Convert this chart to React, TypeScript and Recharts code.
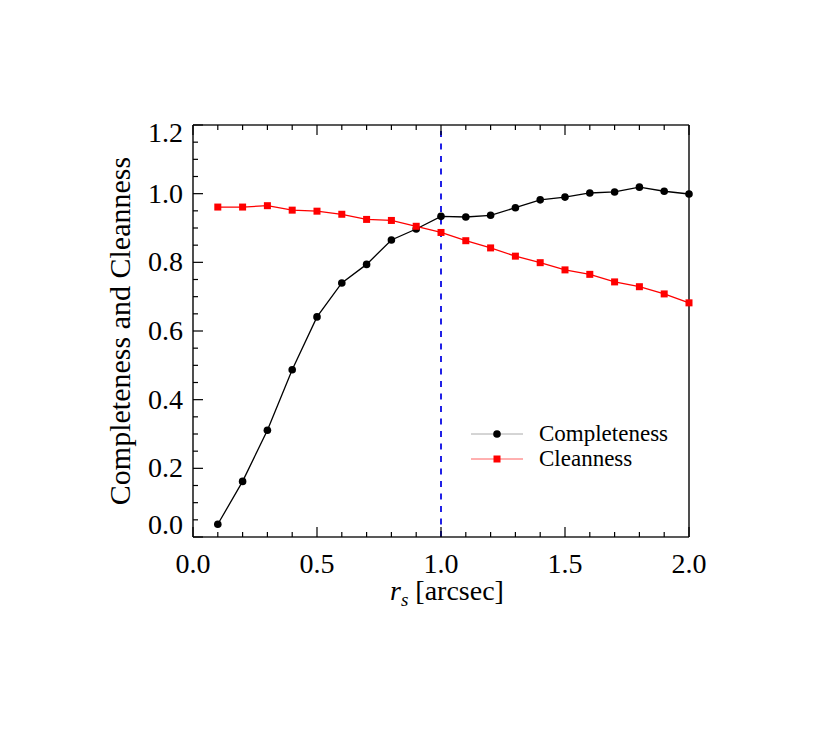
import React from 'react';
import {
  LineChart,
  Line,
  XAxis,
  YAxis,
  ReferenceLine,
  Legend,
} from 'recharts';

// aperture radius r_s in arcsec
const rs = [0.1, 0.2, 0.3, 0.4, 0.5, 0.6, 0.7, 0.8, 0.9, 1.0, 1.1, 1.2, 1.3, 1.4, 1.5, 1.6, 1.7, 1.8, 1.9, 2.0];
const completeness = [0.037, 0.162, 0.311, 0.487, 0.641, 0.74, 0.794, 0.865, 0.897, 0.934, 0.932, 0.937, 0.959, 0.982, 0.99, 1.002, 1.005, 1.019, 1.007, 0.999];
const cleanness = [0.961, 0.961, 0.965, 0.952, 0.949, 0.94, 0.925, 0.922, 0.905, 0.887, 0.863, 0.842, 0.818, 0.799, 0.778, 0.765, 0.743, 0.729, 0.708, 0.682];

const xTicks = [0, 0.1, 0.2, 0.3, 0.4, 0.5, 0.6, 0.7, 0.8, 0.9, 1.0, 1.1, 1.2, 1.3, 1.4, 1.5, 1.6, 1.7, 1.8, 1.9, 2.0];
const xLabels = [0, 0.5, 1.0, 1.5, 2.0];
const yTicks = [0, 0.05, 0.1, 0.15, 0.2, 0.25, 0.3, 0.35, 0.4, 0.45, 0.5, 0.55, 0.6, 0.65, 0.7, 0.75, 0.8, 0.85, 0.9, 0.95, 1.0, 1.05, 1.1, 1.15, 1.2];
const yLabels = [0, 0.2, 0.4, 0.6, 0.8, 1.0, 1.2];

const data = rs.map((r, i) => ({ r, completeness: completeness[i], cleanness: cleanness[i] }));

const FONT = '"Liberation Serif", "Times New Roman", serif';
const isLabel = (list: number[], v: number) => list.some((t) => Math.abs(t - v) < 1e-6);

// inward tick marks, labels only on the major ticks
const BottomTick = ({ x, y, payload }: any) => {
  const major = isLabel(xLabels, payload.value);
  return (
    <g>
      <line x1={x} x2={x} y1={y} y2={y - (major ? 10 : 5)} stroke='#000' strokeWidth={1.2} />
      {major && (
        <text x={x} y={y + 36} textAnchor='middle' fontFamily={FONT} fontSize={28} fill='#000'>
          {payload.value.toFixed(1)}
        </text>
      )}
    </g>
  );
};

const TopTick = ({ x, y, payload }: any) => {
  const major = isLabel(xLabels, payload.value);
  return <line x1={x} x2={x} y1={y} y2={y + (major ? 10 : 5)} stroke='#000' strokeWidth={1.2} />;
};

const LeftTick = ({ x, y, payload }: any) => {
  const v = payload.value;
  const major = isLabel(yLabels, v);
  // end labels nudged inside the frame, like the original plot
  const shift = v > 1.19 ? 8 : v < 0.01 ? -12 : 0;
  return (
    <g>
      <line x1={x} x2={x + (major ? 10 : 5)} y1={y} y2={y} stroke='#000' strokeWidth={1.2} />
      {major && (
        <text x={x - 10} y={y + shift + 9} textAnchor='end' fontFamily={FONT} fontSize={28} fill='#000'>
          {v.toFixed(1)}
        </text>
      )}
    </g>
  );
};

const RightTick = ({ x, y, payload }: any) => {
  const major = isLabel(yLabels, payload.value);
  return <line x1={x} x2={x - (major ? 10 : 5)} y1={y} y2={y} stroke='#000' strokeWidth={1.2} />;
};

const SquareDot = (p: any) => (
  <rect key={`sq-${p.index}`} x={p.cx - 3.5} y={p.cy - 3.5} width={7} height={7} fill='#ff0000' />
);

const LegendBox = () => (
  <div style={{ fontFamily: FONT, fontSize: 23, lineHeight: '25px', color: '#000' }}>
    {[
      { name: 'Completeness', line: '#aaaaaa', color: '#000', square: false },
      { name: 'Cleanness', line: '#ff6060', color: '#ff0000', square: true },
    ].map((s) => (
      <div key={s.name} style={{ display: 'flex', alignItems: 'center', height: 25 }}>
        <svg width={52} height={14} style={{ marginRight: 16 }}>
          <line x1={0} x2={52} y1={7} y2={7} stroke={s.line} strokeWidth={1} />
          {s.square ? (
            <rect x={22.5} y={3.5} width={7} height={7} fill={s.color} />
          ) : (
            <circle cx={26} cy={7} r={3.8} fill={s.color} />
          )}
        </svg>
        <span>{s.name}</span>
      </div>
    ))}
  </div>
);

const frame = { stroke: '#222', strokeWidth: 1.6 };

export default function App() {
  return (
    <div style={{ position: 'absolute', left: 0, top: 0, background: '#fff' }}>
      <LineChart
        width={831}
        height={732}
        data={data}
        margin={{ top: 124, right: 141, bottom: 194, left: 192 }}
      >
        <XAxis
          dataKey='r'
          type='number'
          domain={[0, 2]}
          ticks={xTicks}
          interval={0}
          height={1}
          tickSize={0}
          tickMargin={0}
          tickLine={false}
          axisLine={frame}
          tick={<BottomTick />}
          label={{
            content: ({ viewBox }: any) => (
              <text
                x={viewBox.x + viewBox.width / 2 + 6}
                y={viewBox.y + 63}
                textAnchor='middle'
                fontFamily={FONT}
                fontSize={28}
                fill='#000'
              >
                <tspan fontStyle='italic'>r</tspan>
                <tspan fontSize={19} fontStyle='italic' dy={6}>s</tspan>
                <tspan dy={-6}> [arcsec]</tspan>
              </text>
            ),
          }}
        />
        <XAxis
          xAxisId='top'
          orientation='top'
          dataKey='r'
          type='number'
          domain={[0, 2]}
          ticks={xTicks}
          interval={0}
          height={1}
          tickSize={0}
          tickMargin={0}
          tickLine={false}
          axisLine={frame}
          tick={<TopTick />}
        />
        <YAxis
          type='number'
          domain={[0, 1.2]}
          ticks={yTicks}
          interval={0}
          width={1}
          tickSize={0}
          tickMargin={0}
          tickLine={false}
          axisLine={frame}
          tick={<LeftTick />}
          label={{
            content: ({ viewBox }: any) => {
              const cx = viewBox.x - 62;
              const cy = viewBox.y + viewBox.height / 2;
              return (
                <text
                  x={cx}
                  y={cy}
                  transform={`rotate(-90 ${cx} ${cy})`}
                  textAnchor='middle'
                  fontFamily={FONT}
                  fontSize={30}
                  fill='#000'
                >
                  Completeness and Cleanness
                </text>
              );
            },
          }}
        />
        <YAxis
          yAxisId='right'
          orientation='right'
          type='number'
          domain={[0, 1.2]}
          ticks={yTicks}
          interval={0}
          width={1}
          tickSize={0}
          tickMargin={0}
          tickLine={false}
          axisLine={frame}
          tick={<RightTick />}
        />
        <ReferenceLine x={1} stroke='#2020e6' strokeWidth={2} strokeDasharray='6 6.5' />
        <Line
          dataKey='completeness'
          name='Completeness'
          stroke='#000'
          strokeWidth={1.3}
          dot={{ r: 3.8, fill: '#000', stroke: '#000', strokeWidth: 0 }}
          activeDot={false}
          isAnimationActive={false}
        />
        <Line
          dataKey='cleanness'
          name='Cleanness'
          stroke='#ff0000'
          strokeWidth={1.3}
          dot={SquareDot}
          activeDot={false}
          isAnimationActive={false}
        />
        <Legend
          layout='vertical'
          align='center'
          verticalAlign='middle'
          content={<LegendBox />}
          wrapperStyle={{ position: 'absolute', left: 471, top: 421, width: 'auto', height: 'auto' }}
        />
      </LineChart>
    </div>
  );
}
